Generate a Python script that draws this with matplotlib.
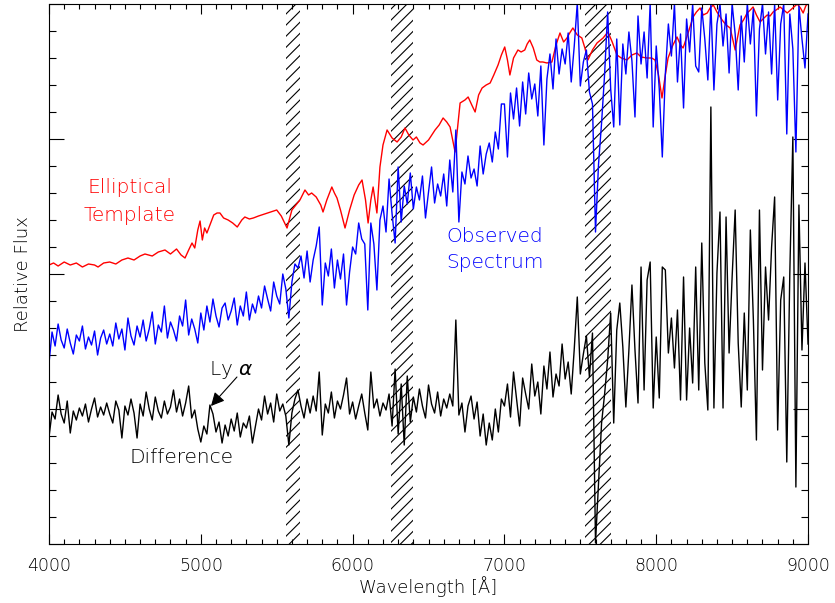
import numpy as np
import matplotlib.pyplot as plt
from matplotlib.ticker import MultipleLocator

plt.rcParams['font.family'] = ['DejaVu Sans']
plt.rcParams['font.weight'] = 'light'
plt.rcParams['axes.labelweight'] = 'light'
plt.rcParams['hatch.linewidth'] = 0.8

# wavelength grid of the observed and difference spectra [A]
wave = np.arange(4000, 9001, 20)

# observed spectrum, relative flux (arbitrary units)
observed = [
    181, 212, 198, 220, 204, 196, 215, 201, 190, 209,
    203, 218, 195, 207, 199, 213, 189, 206, 214, 200,
    210, 198, 221, 205, 215, 194, 226, 208, 199, 218,
    207, 224, 203, 215, 232, 200, 219, 212, 238, 206,
    222, 214, 203, 228, 218, 244, 209, 225, 215, 201,
    231, 214, 238, 222, 245, 228, 217, 236, 241, 224,
    233, 246, 219, 238, 228, 252, 224, 240, 231, 248,
    236, 258, 245, 233, 262, 248, 240, 270, 255, 226,
    262, 280, 276, 288, 266, 293, 262, 284, 298, 317,
    239, 281, 268, 295, 256, 284, 265, 290, 239, 272,
    297, 290, 321, 305, 300, 234, 321, 300, 254, 324,
    338, 312, 365, 330, 301, 377, 322, 358, 340, 371,
    335, 357, 344, 368, 326, 352, 377, 341, 360, 348,
    370, 338, 384, 352, 414, 322, 372, 360, 388, 366,
    375, 358, 398, 370, 390, 401, 382, 412, 395, 440,
    440, 387, 451, 425, 456, 418, 462, 430, 471, 445,
    460, 428, 478, 399, 465, 490, 455, 505, 470, 495,
    480, 511, 462, 498, 541, 458, 482, 494, 452, 440,
    312, 380, 421, 470, 532, 455, 417, 505, 419, 500,
    470, 512, 483, 427, 528, 480, 512, 466, 540, 417,
    498, 455, 387, 470, 520, 488, 540, 462, 510, 436,
    525, 492, 540, 478, 472, 536, 505, 464, 540, 454,
    520, 540, 498, 530, 471, 540, 510, 454, 528, 482,
    540, 500, 535, 428, 515, 540, 490, 532, 470, 540,
    444, 520, 540, 410, 530, 495, 392, 538, 505, 476,
    530,
]

# observed minus template, offset downwards
difference = [
    107, 132, 125, 149, 130, 121, 143, 111, 133, 124,
    136, 128, 140, 122, 135, 146, 127, 137, 129, 141,
    130, 121, 143, 134, 106, 138, 129, 145, 131, 106,
    140, 128, 152, 135, 124, 147, 133, 126, 143, 130,
    137, 154, 132, 145, 128, 141, 158, 126, 134, 115,
    102, 118, 110, 139, 130, 112, 122, 101, 119, 108,
    125, 113, 131, 107, 121, 116, 128, 101, 118, 135,
    124, 148, 130, 141, 122, 150, 133, 140, 128, 99,
    131, 145, 154, 138, 126, 145, 131, 148, 133, 172,
    109, 140, 131, 152, 126, 143, 135, 149, 166, 130,
    142, 125, 138, 150, 131, 114, 172, 136, 145, 128,
    141, 134, 150, 118, 175, 110, 160, 99, 168, 122,
    147, 132, 155, 138, 126, 159, 140, 131, 152, 128,
    145, 136, 150, 138, 224, 129, 141, 112, 138, 148,
    125, 142, 108, 130, 99, 121, 104, 135, 112, 145,
    138, 160, 127, 172, 145, 118, 166, 150, 135, 180,
    148, 162, 130, 178, 155, 192, 147, 170, 158, 200,
    165, 182, 150, 195, 247, 170, 190, 208, 167, 211,
    1, 60, 121, 150, 184, 231, 121, 214, 241, 197,
    137, 194, 259, 194, 141, 277, 154, 264, 282, 136,
    207, 146, 277, 274, 191, 226, 176, 234, 144, 267,
    144, 216, 161, 277, 154, 301, 181, 134, 437, 136,
    271, 332, 136, 327, 191, 267, 334, 201, 137, 231,
    154, 314, 224, 104, 334, 174, 277, 224, 297, 347,
    114, 244, 267, 82, 271, 407, 57, 339, 194, 281,
    200,
]

# elliptical galaxy template (wavelength, relative flux)
template = [
    (4000, 279), (4030, 281), (4060, 278), (4100, 282), (4140, 279),
    (4180, 281), (4220, 277), (4260, 280), (4300, 279), (4323, 277),
    (4360, 281), (4400, 282), (4440, 280), (4480, 284), (4520, 286),
    (4560, 284), (4600, 288), (4632, 290), (4680, 288), (4720, 292),
    (4764, 294), (4800, 290), (4840, 295), (4870, 289), (4896, 286),
    (4920, 294), (4942, 301), (4960, 296), (4980, 314), (4995, 323),
    (5010, 304), (5025, 316), (5040, 311), (5060, 319), (5085, 329),
    (5107, 331), (5126, 331), (5150, 326), (5180, 324), (5210, 321),
    (5240, 317), (5270, 324), (5290, 327), (5320, 325), (5346, 326),
    (5380, 328), (5420, 330), (5460, 332), (5500, 334), (5530, 328),
    (5568, 316), (5600, 334), (5653, 344), (5686, 354), (5710, 349),
    (5730, 351), (5760, 347), (5790, 339), (5805, 332), (5830, 344),
    (5863, 357), (5880, 351), (5897, 346), (5920, 334), (5950, 316),
    (5980, 334), (6010, 349), (6040, 359), (6062, 364), (6085, 344),
    (6102, 321), (6120, 344), (6135, 357), (6160, 331), (6180, 377),
    (6200, 399), (6227, 414), (6260, 406), (6293, 402), (6320, 407),
    (6345, 416), (6370, 409), (6398, 404), (6420, 407), (6444, 401),
    (6464, 399), (6500, 404), (6543, 414), (6570, 419), (6596, 426),
    (6620, 422), (6642, 417), (6675, 392), (6708, 441), (6740, 444),
    (6761, 447), (6785, 439), (6807, 432), (6830, 449), (6853, 456),
    (6880, 459), (6906, 461), (6930, 469), (6958, 479), (6980, 489),
    (7002, 497), (7020, 484), (7036, 469), (7060, 486), (7089, 494),
    (7110, 492), (7134, 494), (7150, 500), (7167, 504), (7190, 496),
    (7213, 484), (7233, 482), (7253, 482), (7280, 481), (7313, 482),
    (7340, 499), (7366, 511), (7390, 502), (7412, 506), (7430, 511),
    (7451, 516), (7480, 509), (7510, 506), (7530, 496), (7550, 484),
    (7580, 494), (7610, 501), (7650, 506), (7682, 512), (7710, 502),
    (7741, 489), (7770, 486), (7807, 484), (7840, 489), (7873, 491),
    (7900, 487), (7939, 486), (7970, 486), (7992, 484), (8015, 469),
    (8038, 446), (8060, 469), (8078, 486), (8110, 499), (8137, 507),
    (8160, 499), (8177, 496), (8195, 504), (8210, 511), (8243, 527),
    (8265, 532), (8289, 536), (8310, 529), (8336, 531), (8355, 536),
    (8376, 539), (8400, 532), (8434, 524), (8460, 519), (8487, 516),
    (8505, 504), (8520, 494), (8535, 506), (8552, 519), (8575, 524),
    (8599, 531), (8620, 534), (8638, 537), (8660, 529), (8684, 522),
    (8710, 526), (8731, 529), (8750, 528), (8770, 532), (8790, 534),
    (8816, 537), (8840, 534), (8863, 531), (8900, 536), (8929, 540),
    (8950, 536), (8968, 531), (8985, 538), (9000, 541),
]

# wavelength ranges hit by sky lines / telluric absorption
bad_regions = [(5561, 5653), (6253, 6398), (7531, 7702)]

fig = plt.figure(figsize=(8.35, 6.03), dpi=100)
ax = fig.add_axes([0.0587, 0.0978, 0.909, 0.8956])

for lo, hi in bad_regions:
    ax.axvspan(lo, hi, facecolor='none', edgecolor='k', hatch='///',
               linewidth=0, zorder=0.5)

tw, tf = np.array(template).T
ax.plot(tw, tf, color='red', lw=1.0)
ax.plot(wave, observed, color='blue', lw=1.0)
ax.plot(wave, difference, color='black', lw=1.0)

ax.text(4534, 351, 'Elliptical', color='red', fontsize=14.5, ha='center')
ax.text(4534, 323, 'Template', color='red', fontsize=14.5, ha='center')
ax.text(6935, 302, 'Observed', color='blue', fontsize=14.5, ha='center')
ax.text(6935, 276, 'Spectrum', color='blue', fontsize=14.5, ha='center')
ax.text(4870, 81, 'Difference', color='black', fontsize=14.5, ha='center')
ax.text(5054, 169, r'Ly $\alpha$', color='black', fontsize=14.5, ha='left')
ax.annotate('', xy=(5067, 138), xytext=(5238, 167),
            arrowprops=dict(arrowstyle='-|>', color='k', lw=0.8,
                            mutation_scale=20, shrinkA=0, shrinkB=0))

ax.set_xlim(4000, 9000)
ax.set_ylim(0, 540)
ax.xaxis.set_major_locator(MultipleLocator(1000))
ax.xaxis.set_minor_locator(MultipleLocator(100))
ax.yaxis.set_major_locator(MultipleLocator(135))
ax.yaxis.set_minor_locator(MultipleLocator(27))
ax.tick_params(which='both', direction='in', top=True, right=True, width=0.8)
ax.tick_params(axis='x', which='major', length=7.2, labelsize=12.5, pad=9)
ax.tick_params(axis='x', which='minor', length=3.6)
ax.tick_params(axis='y', which='major', length=10.8, labelleft=False)
ax.tick_params(axis='y', which='minor', length=5)
for s in ax.spines.values():
    s.set_linewidth(0.8)

ax.set_xlabel('Wavelength [Å]', fontsize=13, labelpad=1)
ax.set_ylabel('Relative Flux', fontsize=13, labelpad=9)

fig.savefig('out.png', dpi=100)
